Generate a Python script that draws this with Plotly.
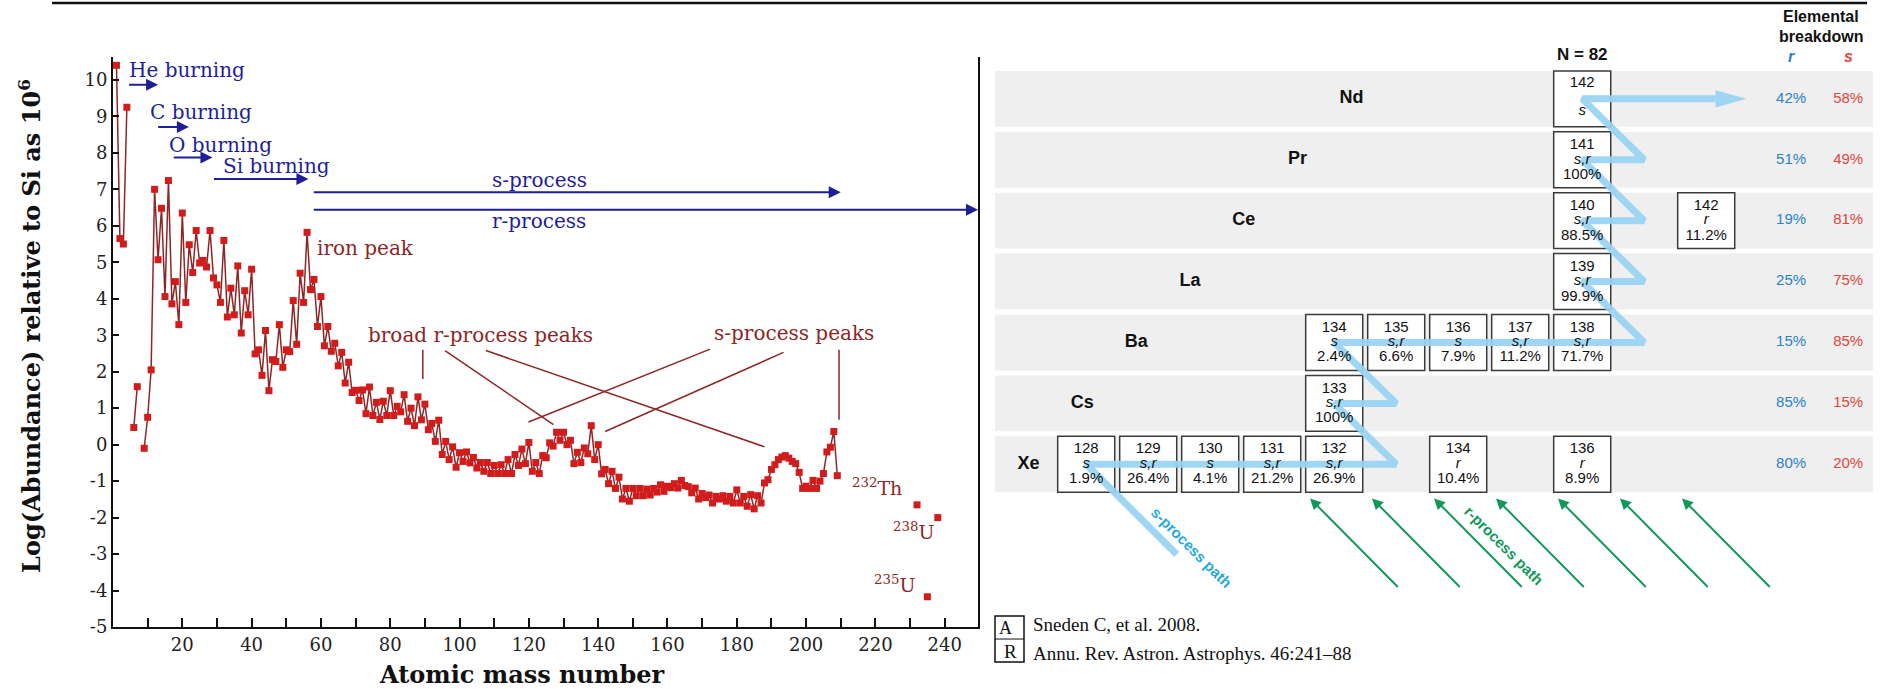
import plotly.graph_objects as go

W, H = 1880, 689
K = 0.987  # vertical compensation of the capture

def pxx(x):
    return x / W

def pxy(y):
    return 1 - (y / K) / H

# ---------------- LEFT PANEL DATA: solar-system abundances ----------------
mass_number = list(range(1, 210))
log_abundance = [
    10.4, 5.65, 5.5, 9.25, None, 0.47, 1.59, None, -0.1, 0.75,
    2.05, 7.0, 5.07, 6.48, 4.06, 7.24, 3.86, 4.47, 3.29, 6.35,
    3.9, 5.48, 4.72, 5.87, 4.98, 5.05, 4.87, 5.87, 4.57, 4.38,
    3.9, 5.6, 3.5, 4.29, 3.56, 4.9, 3.06, 4.22, 3.56, 4.81,
    2.49, 2.6, 1.9, 3.13, 1.48, 2.33, 2.28, 3.29, 2.12, 2.6,
    2.55, 3.95, 2.75, 4.7, 3.9, 5.82, 4.25, 4.53, 3.24, 4.06,
    2.71, 3.24, 2.56, 2.78, 2.16, 2.53, 1.69, 2.26, 1.43, 1.49,
    1.21, 1.5, 0.85, 1.58, 0.8, 1.16, 0.69, 1.19, 0.8, 1.48,
    0.8, 1.05, 0.9, 1.37, 0.64, 1.0, 0.52, 1.31, 0.68, 1.11,
    0.41, 0.58, 0.09, 0.67, -0.27, 0.09, -0.41, -0.06, -0.62, -0.22,
    -0.46, -0.2, -0.5, -0.35, -0.64, -0.49, -0.73, -0.49, -0.79, -0.57,
    -0.79, -0.55, -0.79, -0.41, -0.79, -0.27, -0.57, -0.12, -0.52, 0.06,
    -0.73, -0.49, -0.79, -0.3, -0.36, 0.05, -0.04, 0.34, 0.12, 0.34,
    0.0, 0.12, -0.52, -0.21, -0.49, -0.09, -0.25, 0.52, -0.41, 0.0,
    -0.8, -0.68, -1.07, -0.73, -1.2, -0.89, -1.49, -1.2, -1.55, -1.2,
    -1.4, -1.2, -1.4, -1.22, -1.38, -1.2, -1.3, -1.1, -1.28, -1.14,
    -1.18, -1.07, -1.19, -0.98, -1.12, -1.15, -1.32, -1.19, -1.49, -1.34,
    -1.45, -1.38, -1.6, -1.42, -1.49, -1.4, -1.55, -1.42, -1.6, -1.24,
    -1.6, -1.42, -1.69, -1.37, -1.76, -1.4, -1.6, -1.05, -0.96, -0.68,
    -0.55, -0.41, -0.34, -0.3, -0.37, -0.46, -0.52, -0.76, -1.2, -1.14,
    -1.2, -0.98, -1.2, -1.0, -0.79, -0.2, -0.07, 0.36, -0.85,
]
heavy_A = [232, 235, 238]
heavy_log = [-1.65, -4.17, -2.0]
heavy_labels = ["<sup>232</sup>Th", "<sup>235</sup>U", "<sup>238</sup>U"]

# burning / process ranges (mass number extents) and arrow levels
burn_names = ["He burning", "C burning", "O burning", "Si burning", "s-process", "r-process"]
burn_A_start = [4.2, 12.6, 17.1, 28.7, 57.5, 57.5]
burn_A_end = [13.0, 21.9, 28.7, 56.4, 210.0, 249.6]
burn_level = [9.87, 8.71, 7.87, 7.28, 6.92, 6.44]

peak_names = ["iron peak", "broad r-process peaks", "s-process peaks"]
# leader lines (A0, log0) -> (A1, log1)
leader_A0 = [89.4, 95.8, 107.6, 172.3, 193.5, 209.5]
leader_y0 = [2.6, 2.58, 2.58, 2.62, 2.53, 2.6]
leader_A1 = [89.4, 127.1, 188.0, 119.9, 142.0, 209.5]
leader_y1 = [1.8, 0.55, -0.06, 0.62, 0.36, 0.68]

x_tick_vals = list(range(10, 250, 10))
y_tick_vals = list(range(-5, 11))

# ---------------- RIGHT PANEL DATA: s/r isotopes near N = 82 ----------------
elements = ["Xe", "Cs", "Ba", "La", "Ce", "Pr", "Nd"]
element_Z = [54, 55, 56, 57, 58, 59, 60]
element_r_pct = ["80%", "85%", "15%", "25%", "19%", "51%", "42%"]
element_s_pct = ["20%", "15%", "85%", "75%", "81%", "49%", "58%"]

iso_Z = [54, 54, 54, 54, 54, 54, 54, 55, 56, 56, 56, 56, 56, 57, 58, 58, 59, 60]
iso_A = [128, 129, 130, 131, 132, 134, 136, 133, 134, 135, 136, 137, 138, 139, 140, 142, 141, 142]
iso_proc = ["s", "s,r", "s", "s,r", "s,r", "r", "r", "s,r", "s", "s,r", "s", "s,r", "s,r",
            "s,r", "s,r", "r", "s,r", "s"]
iso_pct = ["1.9%", "26.4%", "4.1%", "21.2%", "26.9%", "10.4%", "8.9%", "100%", "2.4%", "6.6%",
           "7.9%", "11.2%", "71.7%", "99.9%", "88.5%", "11.2%", "100%", ""]

# s-process path nodes in (N, Z)
s_path_N = [75.46, 74, 79, 78, 79, 78, 83, 82, 83, 82, 83, 82, 83, 82, 84.15]
s_path_Z = [52.52, 54, 54, 55, 55, 56, 56, 57, 57, 58, 58, 59, 59, 60, 60]
s_arrow_tip_N = 84.65

# r-process feeding arrows: target neutron numbers
r_arrow_N = [78, 79, 80, 81, 82, 83, 84]

# ---------------- FIGURE ----------------
fig = go.Figure()

DARKRED = "#8e2626"
NAVY = "#1e1e98"
SERIF = "DejaVu Serif"
SANS = "Liberation Sans, Arial, sans-serif"

fig.add_trace(go.Scatter(
    x=mass_number, y=log_abundance, mode="lines+markers", connectgaps=False,
    line=dict(color=DARKRED, width=1.5),
    marker=dict(symbol="square", size=7, color="#d21c1c", line=dict(width=0)),
    xaxis="x", yaxis="y", hoverinfo="skip"))
fig.add_trace(go.Scatter(
    x=heavy_A, y=heavy_log, mode="markers",
    marker=dict(symbol="square", size=7, color="#d21c1c", line=dict(width=0)),
    xaxis="x", yaxis="y", hoverinfo="skip"))

annotations = []
shapes = []

# process arrows
for a0, a1, lv in zip(burn_A_start, burn_A_end, burn_level):
    annotations.append(dict(x=a1, y=lv, ax=a0, ay=lv, xref="x", yref="y", axref="x", ayref="y",
                            text="", showarrow=True, arrowhead=2, arrowsize=1.2, arrowwidth=2,
                            arrowcolor=NAVY, standoff=0, startstandoff=0))
burn_label_A = [4.0, 10.1, 15.6, 31.2, 108.8, 108.8]
burn_label_y = [10.27, 9.12, 8.22, 7.65, 7.26, 6.12]
for name, la, ly in zip(burn_names, burn_label_A, burn_label_y):
    annotations.append(dict(x=la, y=ly, xref="x", yref="y", text=name, showarrow=False,
                            xanchor="left", yanchor="middle",
                            font=dict(family=SERIF, size=20, color=NAVY)))

peak_label_A = [58.3, 73.0, 172.8]
peak_label_y = [5.4, 3.0, 3.07]
for name, la, ly in zip(peak_names, peak_label_A, peak_label_y):
    annotations.append(dict(x=la, y=ly, xref="x", yref="y", text=name, showarrow=False,
                            xanchor="left", yanchor="middle",
                            font=dict(family=SERIF, size=20, color=DARKRED)))
for a0, y0, a1, y1 in zip(leader_A0, leader_y0, leader_A1, leader_y1):
    shapes.append(dict(type="line", xref="x", yref="y", x0=a0, y0=y0, x1=a1, y1=y1,
                       line=dict(color=DARKRED, width=1.5)))

heavy_label_A = [212.6, 219.0, 224.6]
heavy_label_y = [-1.16, -3.81, -2.37]
for txt, la, ly in zip(heavy_labels, heavy_label_A, heavy_label_y):
    annotations.append(dict(x=la, y=ly, xref="x", yref="y", text=txt, showarrow=False,
                            xanchor="left", yanchor="middle",
                            font=dict(family=SERIF, size=19, color=DARKRED)))

# axis titles
annotations.append(dict(x=pxx(521), y=pxy(676), xref="paper", yref="paper",
                        xanchor="center", yanchor="middle",
                        text="<b>Atomic mass number</b>", showarrow=False,
                        font=dict(family=SERIF, size=24, color="#111")))
annotations.append(dict(x=pxx(30), y=pxy(326.5), xref="paper", yref="paper", textangle=-90,
                        xanchor="center", yanchor="middle",
                        text="<b>Log(Abundance) relative to Si as 10<sup>6</sup></b>", showarrow=False,
                        font=dict(family=SERIF, size=24, color="#111")))

# ---- right panel ----
ROW_H = 0.459
BOX_W = 0.46
for z in element_Z:
    shapes.append(dict(type="rect", xref="x2", yref="y2", x0=72.53, x1=86.69,
                       y0=z - ROW_H, y1=z + ROW_H, fillcolor="#efefef",
                       line=dict(width=0), layer="below"))
iso_N = [a - z for a, z in zip(iso_A, iso_Z)]
for n, z in zip(iso_N, iso_Z):
    shapes.append(dict(type="rect", xref="x2", yref="y2", x0=n - BOX_W, x1=n + BOX_W,
                       y0=z - ROW_H, y1=z + ROW_H, fillcolor="white",
                       line=dict(color="#3a3a3a", width=1.5), layer="below"))

PATHBLUE = "rgba(150,211,242,0.92)"
fig.add_trace(go.Scatter(x=s_path_N, y=s_path_Z, mode="lines",
                         line=dict(color=PATHBLUE, width=7),
                         xaxis="x2", yaxis="y2", hoverinfo="skip"))
fig.add_trace(go.Scatter(x=[s_path_N[-1], s_arrow_tip_N, s_path_N[-1], s_path_N[-1]],
                         y=[s_path_Z[-1] + 0.14, s_path_Z[-1], s_path_Z[-1] - 0.14, s_path_Z[-1] + 0.14],
                         mode="lines", fill="toself", fillcolor=PATHBLUE,
                         line=dict(width=0, color=PATHBLUE),
                         xaxis="x2", yaxis="y2", hoverinfo="skip"))

# isotope box texts
y_line1 = [z + 0.24 if p else z + 0.25 for z, p in zip(iso_Z, iso_pct)]
y_line2 = [z + 0.0 if p else z - 0.21 for z, p in zip(iso_Z, iso_pct)]
y_line3 = [z - 0.25 for z in iso_Z]
BOXFONT = dict(family=SANS, size=15, color="#111")
fig.add_trace(go.Scatter(x=iso_N, y=y_line1, mode="text", text=[str(a) for a in iso_A],
                         textfont=BOXFONT, xaxis="x2", yaxis="y2", hoverinfo="skip"))
fig.add_trace(go.Scatter(x=iso_N, y=y_line2, mode="text", text=["<i>%s</i>" % p for p in iso_proc],
                         textfont=BOXFONT, xaxis="x2", yaxis="y2", hoverinfo="skip"))
pct_N = [n for n, p in zip(iso_N, iso_pct) if p]
pct_y = [y for y, p in zip(y_line3, iso_pct) if p]
pct_t = [p for p in iso_pct if p]
fig.add_trace(go.Scatter(x=pct_N, y=pct_y, mode="text", text=pct_t,
                         textfont=BOXFONT, xaxis="x2", yaxis="y2", hoverinfo="skip"))

# element labels (stepped)
label_N = [73.07 + 0.868 * (z - 54) for z in element_Z]
fig.add_trace(go.Scatter(x=label_N, y=element_Z, mode="text", text=["<b>%s</b>" % e for e in elements],
                         textfont=dict(family=SANS, size=18, color="#111"),
                         xaxis="x2", yaxis="y2", hoverinfo="skip"))

RBLUE = "#2a82c8"
SRED = "#e0463c"
fig.add_trace(go.Scatter(x=[85.37] * len(element_Z), y=element_Z, mode="text", text=element_r_pct,
                         textfont=dict(family=SANS, size=15, color=RBLUE),
                         xaxis="x2", yaxis="y2", hoverinfo="skip"))
fig.add_trace(go.Scatter(x=[86.29] * len(element_Z), y=element_Z, mode="text", text=element_s_pct,
                         textfont=dict(family=SANS, size=15, color=SRED),
                         xaxis="x2", yaxis="y2", hoverinfo="skip"))

# headers
hdr = dict(xref="x2", yref="y2", showarrow=False, xanchor="center", yanchor="middle")
annotations.append(dict(x=85.85, y=61.36, text="<b>Elemental</b>",
                        font=dict(family=SANS, size=16, color="#111"), **hdr))
annotations.append(dict(x=85.85, y=61.02, text="<b>breakdown</b>",
                        font=dict(family=SANS, size=16, color="#111"), **hdr))
annotations.append(dict(x=85.37, y=60.69, text="<b><i>r</i></b>",
                        font=dict(family=SANS, size=16, color=RBLUE), **hdr))
annotations.append(dict(x=86.29, y=60.69, text="<b><i>s</i></b>",
                        font=dict(family=SANS, size=16, color=SRED), **hdr))
annotations.append(dict(x=82.0, y=60.73, text="<b>N = 82</b>",
                        font=dict(family=SANS, size=17, color="#111"), **hdr))

# r-process arrows
RGREEN = "#12995a"
for n in r_arrow_N:
    annotations.append(dict(x=n - 0.39, y=53.44, ax=n - 0.39 + 1.44, ay=51.96,
                            xref="x2", yref="y2", axref="x2", ayref="y2", text="",
                            showarrow=True, arrowhead=2, arrowsize=1.1, arrowwidth=2,
                            arrowcolor=RGREEN, standoff=0, startstandoff=0))

annotations.append(dict(x=75.70, y=52.63, text="<b>s-process path</b>", textangle=45,
                        font=dict(family=SANS, size=15, color="#27a9e0"), **hdr))
annotations.append(dict(x=80.74, y=52.67, text="<b>r-process path</b>", textangle=45,
                        font=dict(family=SANS, size=15, color=RGREEN), **hdr))

# citation
shapes.append(dict(type="rect", xref="paper", yref="paper", x0=pxx(995), x1=pxx(1024),
                   y0=pxy(663), y1=pxy(617), line=dict(color="#111", width=1.5)))
shapes.append(dict(type="line", xref="paper", yref="paper", x0=pxx(995), x1=pxx(1024),
                   y0=pxy(640), y1=pxy(640), line=dict(color="#111", width=1)))
annotations.append(dict(x=pxx(1006), y=pxy(629), xref="paper", yref="paper", text="A",
                        xanchor="center", yanchor="middle",
                        showarrow=False, font=dict(family="Liberation Serif", size=18, color="#111")))
annotations.append(dict(x=pxx(1010), y=pxy(652), xref="paper", yref="paper", text="R",
                        xanchor="center", yanchor="middle",
                        showarrow=False, font=dict(family="Liberation Serif", size=19, color="#111")))
annotations.append(dict(x=pxx(1031), y=pxy(625), xref="paper", yref="paper",
                        xanchor="left", yanchor="middle",
                        text="Sneden C, et al. 2008.", showarrow=False,
                        font=dict(family="Liberation Serif", size=19, color="#111")))
annotations.append(dict(x=pxx(1031), y=pxy(655), xref="paper", yref="paper",
                        xanchor="left", yanchor="middle",
                        text="Annu. Rev. Astron. Astrophys. 46:241–88", showarrow=False,
                        font=dict(family="Liberation Serif", size=19, color="#111")))

# top rule
shapes.append(dict(type="line", xref="paper", yref="paper", x0=pxx(52), x1=pxx(1867),
                   y0=pxy(3), y1=pxy(3), line=dict(color="#111", width=2.5)))

Z_TOP = 54 - (0 - 465) / 61
Z_BOT = 54 - (H * K - 465) / 61

fig.update_layout(
    width=W, height=H, margin=dict(l=0, r=0, t=0, b=0),
    paper_bgcolor="white", plot_bgcolor="white", showlegend=False,
    annotations=annotations, shapes=shapes,
    xaxis=dict(domain=[pxx(113), pxx(978)], range=[0, 249.6], anchor="y",
               showgrid=False, zeroline=False, showline=True, linecolor="#111", linewidth=2,
               ticks="inside", ticklen=9, tickwidth=1.5, tickcolor="#111",
               tickvals=x_tick_vals,
               ticktext=[str(v) if v % 20 == 0 else "" for v in x_tick_vals],
               tickfont=dict(family=SERIF, size=18, color="#222")),
    yaxis=dict(domain=[pxy(628), pxy(57)], range=[-5, 10.63], anchor="x",
               showgrid=False, zeroline=False, showline=True, mirror=True,
               linecolor="#111", linewidth=2,
               ticks="inside", ticklen=6, tickwidth=1.5, tickcolor="#111",
               tickvals=y_tick_vals, ticktext=[str(v) for v in y_tick_vals],
               tickfont=dict(family=SERIF, size=18, color="#222")),
    xaxis2=dict(domain=[pxx(990), 1.0], range=[72.4484, 86.8032], anchor="y2",
                visible=False, showgrid=False, zeroline=False),
    yaxis2=dict(domain=[0, 1], range=[Z_BOT, Z_TOP], anchor="x2",
                visible=False, showgrid=False, zeroline=False),
)

fig.write_html("out.html")
